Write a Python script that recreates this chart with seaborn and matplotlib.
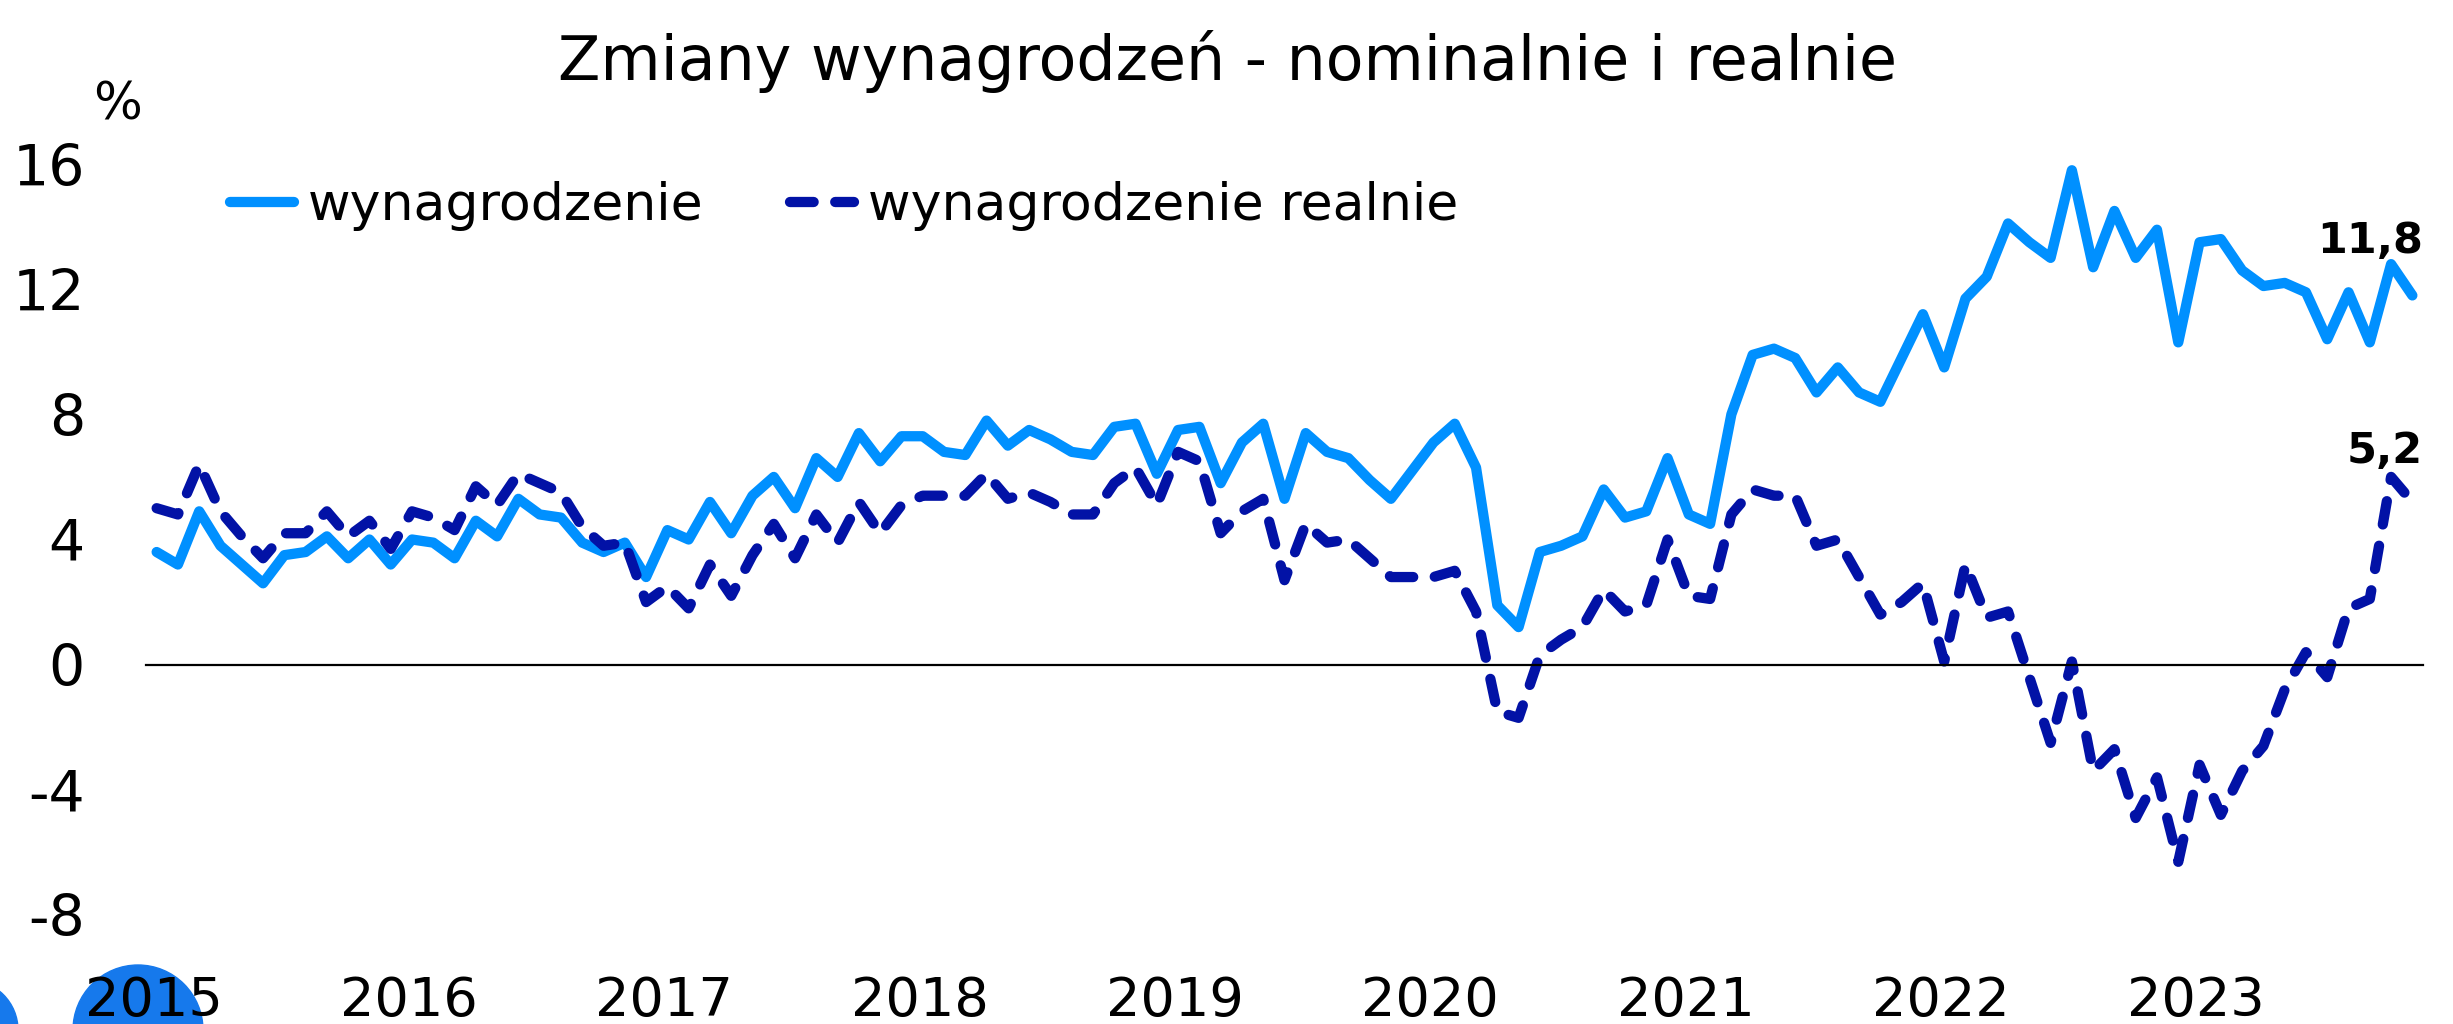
import pandas as pd
import matplotlib
matplotlib.use('Agg')
import matplotlib.pyplot as plt
import matplotlib.transforms as mtransforms
from matplotlib.patches import Circle
import seaborn as sns

# Dane miesięczne r/r w %, styczeń 2015 - listopad 2023
LATA = ['2015', '2016', '2017', '2018', '2019', '2020', '2021', '2022', '2023']

WYNAGRODZENIE = [
    3.6, 3.2, 4.9, 3.8, 3.2, 2.6, 3.5, 3.6, 4.1, 3.4, 4.0, 3.2,
    4.0, 3.9, 3.4, 4.6, 4.1, 5.3, 4.8, 4.7, 3.9, 3.6, 3.9, 2.8,
    4.3, 4.0, 5.2, 4.2, 5.4, 6.0, 5.0, 6.6, 6.0, 7.4, 6.5, 7.3,
    7.3, 6.8, 6.7, 7.8, 7.0, 7.5, 7.2, 6.8, 6.7, 7.6, 7.7, 6.1,
    7.5, 7.6, 5.8, 7.1, 7.7, 5.3, 7.4, 6.8, 6.6, 5.9, 5.3, 6.2,
    7.1, 7.7, 6.3, 1.9, 1.2, 3.6, 3.8, 4.1, 5.6, 4.7, 4.9, 6.6,
    4.8, 4.5, 8.0, 9.9, 10.1, 9.8, 8.7, 9.5, 8.7, 8.4, 9.8, 11.2,
    9.5, 11.7, 12.4, 14.1, 13.5, 13.0, 15.8, 12.7, 14.5, 13.0, 13.9, 10.3,
    13.5, 13.6, 12.6, 12.1, 12.2, 11.9, 10.4, 11.9, 10.3, 12.8, 11.8,
]

WYNAGRODZENIE_REALNIE = [
    5.0, 4.8, 6.4, 4.9, 4.1, 3.4, 4.2, 4.2, 4.9, 4.1, 4.6, 3.7,
    4.9, 4.7, 4.3, 5.7, 5.1, 6.1, 5.8, 5.5, 4.4, 3.8, 3.9, 2.0,
    2.5, 1.8, 3.2, 2.2, 3.5, 4.5, 3.4, 4.8, 3.9, 5.2, 4.2, 5.1,
    5.4, 5.4, 5.4, 6.1, 5.3, 5.5, 5.2, 4.8, 4.8, 5.8, 6.3, 5.1,
    6.8, 6.5, 4.2, 4.9, 5.3, 2.7, 4.5, 3.9, 4.0, 3.4, 2.8, 2.8,
    2.8, 3.0, 1.7, -1.5, -1.7, 0.3, 0.8, 1.2, 2.4, 1.7, 1.9, 4.0,
    2.2, 2.1, 4.8, 5.6, 5.4, 5.4, 3.8, 4.0, 2.8, 1.6, 2.0, 2.6,
    0.1, 3.2, 1.5, 1.7, -0.4, -2.5, 0.1, -3.4, -2.7, -4.9, -3.6, -6.3,
    -3.2, -4.8, -3.4, -2.6, -0.8, 0.4, -0.4, 1.8, 2.1, 6.0, 5.2,
]

Y_TICKS = [-8, -4, 0, 4, 8, 12, 16]

KOLOR_NOM = '#0090FF'
KOLOR_REAL = '#0212A6'

W, H = 2453, 1024


def main():
    sns.set_style('white')
    plt.rcParams['font.family'] = ['DejaVu Sans']
    plt.rcParams['text.color'] = 'black'
    plt.rcParams['xtick.color'] = 'black'
    plt.rcParams['ytick.color'] = 'black'

    df = pd.DataFrame({
        'miesiac': range(len(WYNAGRODZENIE)),
        'wynagrodzenie': WYNAGRODZENIE,
        'realnie': WYNAGRODZENIE_REALNIE,
    })
    n = len(df)

    fig = plt.figure(figsize=(W / 100, H / 100), dpi=100)
    ax = fig.add_axes([146 / W, 1 - 915 / H, (2423 - 146) / W, (915 - 164) / H])

    # niebieskie kółka w lewym dolnym rogu
    for cx, cy, r in [(138, 1030, 65), (-32, 1030, 50)]:
        fig.add_artist(Circle((cx, H - cy), r, color='#1679EC',
                              transform=mtransforms.IdentityTransform(), zorder=-1))

    sns.lineplot(data=df, x='miesiac', y='wynagrodzenie', ax=ax, color=KOLOR_NOM,
                 linewidth=7.4, solid_capstyle='round', solid_joinstyle='round',
                 label='wynagrodzenie', clip_on=False)
    sns.lineplot(data=df, x='miesiac', y='realnie', ax=ax, color=KOLOR_REAL,
                 linewidth=7.4, linestyle=(0, (2.3, 2.1)), dash_capstyle='round',
                 dash_joinstyle='round', label='wynagrodzenie realnie', clip_on=False)

    ax.set_xlim(-0.5, n - 0.5)
    ax.set_ylim(-8, 16)
    ax.set_xlabel('')
    ax.set_ylabel('')

    for s in ['left', 'top', 'right']:
        ax.spines[s].set_visible(False)
    ax.spines['bottom'].set_position(('data', 0))
    ax.spines['bottom'].set_color('black')
    ax.spines['bottom'].set_linewidth(1.6)

    ax.set_xticks([12 * k - 0.5 for k in range(len(LATA))])
    ax.set_xticklabels([])
    ax.tick_params(axis='x', direction='out', length=14, width=1.6, color='black')

    ax.set_yticks(Y_TICKS)
    ax.set_yticklabels([str(v) for v in Y_TICKS])
    ax.tick_params(axis='y', length=0, pad=44, labelsize=41, labelcolor='black')

    # etykiety lat pod wykresem
    tr = mtransforms.blended_transform_factory(ax.transData, fig.transFigure)
    for k, rok in enumerate(LATA):
        ax.text(12 * k - 0.15, 1 - 1016 / H, rok, transform=tr, ha='center',
                va='baseline', fontsize=39, clip_on=False)

    # wartości końcowe
    ax.text(n - 0.5, WYNAGRODZENIE[-1] + 1.35, f'{WYNAGRODZENIE[-1]:.1f}'.replace('.', ','),
            ha='right', va='baseline', fontsize=31, fontweight='bold', clip_on=False)
    ax.text(n - 0.5, WYNAGRODZENIE_REALNIE[-1] + 1.25,
            f'{WYNAGRODZENIE_REALNIE[-1]:.1f}'.replace('.', ','),
            ha='right', va='baseline', fontsize=31, fontweight='bold', clip_on=False)

    ax.legend(loc='center left', bbox_to_anchor=(230 / W, 1 - 206 / H),
              bbox_transform=fig.transFigure, ncol=2, frameon=False, fontsize=37.5,
              handlelength=1.23, handletextpad=0.27, columnspacing=1.65,
              borderpad=0, borderaxespad=0)

    fig.text(1227 / W, 1 - 80 / H, 'Zmiany wynagrodzeń - nominalnie i realnie',
             ha='center', va='baseline', fontsize=44.6)
    fig.text(118 / W, 1 - 106 / H, '%', ha='center', va='center', fontsize=37)

    fig.savefig('out.png', dpi=100)
    print('Generated out.png')


if __name__ == '__main__':
    main()
